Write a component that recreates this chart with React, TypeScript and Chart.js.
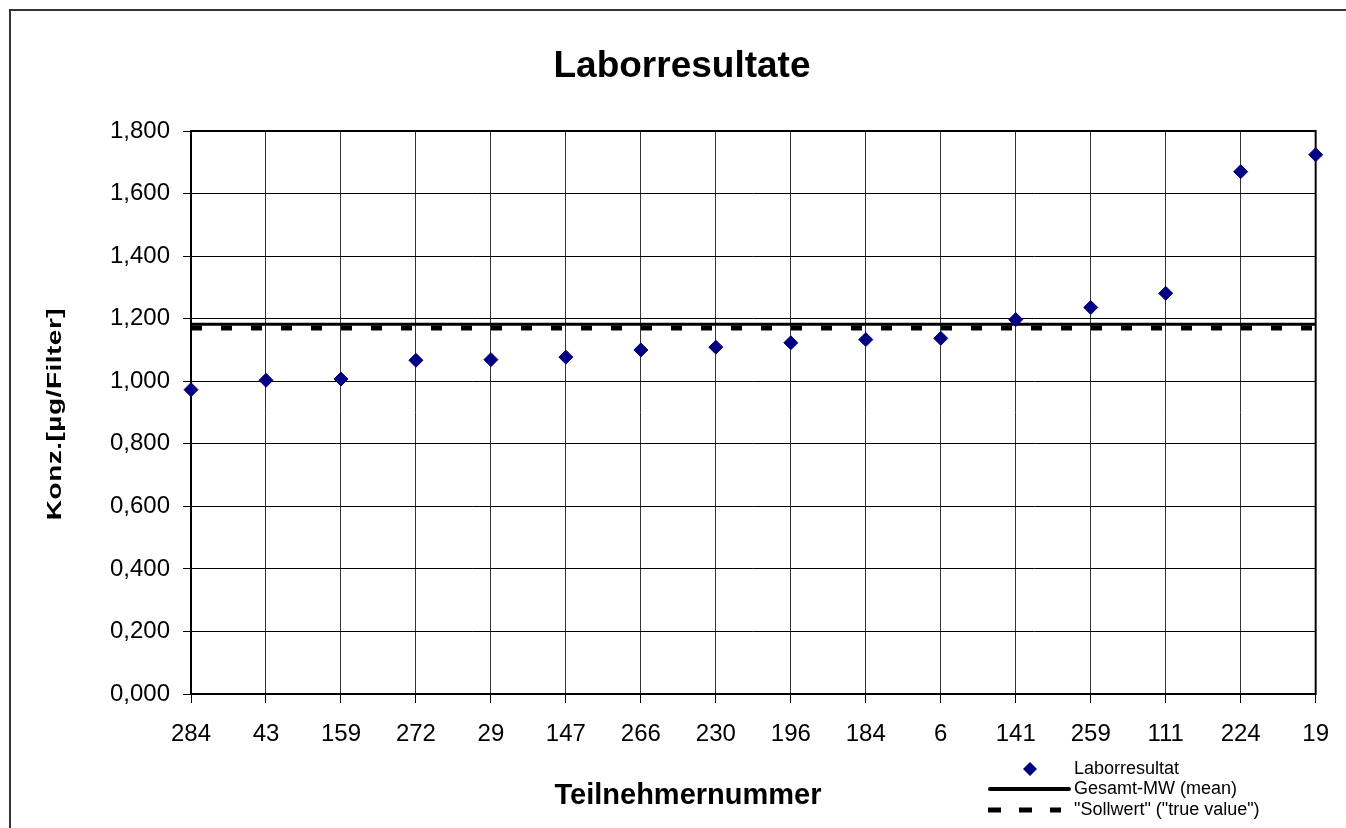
import React, { useEffect, useRef } from "react";
import { Chart, registerables } from "chart.js";

Chart.register(...registerables);

const categories = ["284", "43", "159", "272", "29", "147", "266", "230", "196", "184", "6", "141", "259", "111", "224", "19"];
const laborValues = [0.973, 1.003, 1.007, 1.067, 1.069, 1.077, 1.1, 1.109, 1.123, 1.133, 1.137, 1.197, 1.236, 1.281, 1.67, 1.724];
const meanValue = 1.182;
const sollwertValue = 1.17;
const yTickLabels = ["0,000", "0,200", "0,400", "0,600", "0,800", "1,000", "1,200", "1,400", "1,600", "1,800"];
const titleText = "Laborresultate";
const xTitleText = "Teilnehmernummer";
const yTitleText = "Konz.[µg/Filter]";
const seriesLabels = ["Laborresultat", "Gesamt-MW (mean)", "\"Sollwert\" (\"true value\")"];

const FONT = "'Liberation Sans', Arial, sans-serif";
const NAVY = "#000080";

const decorPlugin = {
  id: "decor",
  beforeDraw(chart: any) {
    const ctx = chart.ctx;
    ctx.save();
    ctx.fillStyle = "#fff";
    ctx.fillRect(0, 0, chart.width, chart.height);
    ctx.strokeStyle = "#333";
    ctx.lineWidth = 2;
    ctx.strokeRect(10, 10, 2000, 2000);
    ctx.restore();
  },
  beforeDatasetsDraw(chart: any) {
    const { ctx, chartArea } = chart;
    ctx.save();
    ctx.strokeStyle = "#000";
    ctx.lineWidth = 2;
    ctx.strokeRect(chartArea.left, chartArea.top, chartArea.right - chartArea.left, chartArea.bottom - chartArea.top);
    ctx.restore();
  },
  afterDraw(chart: any) {
    const ctx = chart.ctx;
    ctx.save();
    ctx.fillStyle = "#000";
    // title
    ctx.font = `bold 37px ${FONT}`;
    ctx.textAlign = "center";
    ctx.textBaseline = "middle";
    ctx.fillText(titleText, 682, 67);
    // x title
    ctx.font = `bold 29px ${FONT}`;
    ctx.fillText(xTitleText, 688, 796);
    // y title
    ctx.save();
    ctx.translate(55, 414);
    ctx.rotate(-Math.PI / 2);
    ctx.scale(1, 0.72);
    ctx.font = `bold 28px ${FONT}`;
    try { (ctx as any).letterSpacing = "0.5px"; } catch (e) {}
    ctx.fillText(yTitleText, 0, 0);
    ctx.restore();

    // legend
    const ds = chart.data.datasets;
    ctx.font = `18px ${FONT}`;
    ctx.textAlign = "left";
    ctx.textBaseline = "middle";
    const tx = 1074;
    const rows = [769, 789, 810];
    const r = 7;
    ctx.fillStyle = ds[0].backgroundColor;
    ctx.beginPath();
    ctx.moveTo(1030, rows[0] - r);
    ctx.lineTo(1030 + r, rows[0]);
    ctx.lineTo(1030, rows[0] + r);
    ctx.lineTo(1030 - r, rows[0]);
    ctx.closePath();
    ctx.fill();
    ctx.strokeStyle = ds[1].borderColor;
    ctx.lineWidth = 4;
    ctx.lineCap = "round";
    ctx.beginPath();
    ctx.moveTo(990, rows[1]);
    ctx.lineTo(1069, rows[1]);
    ctx.stroke();
    ctx.strokeStyle = ds[2].borderColor;
    ctx.lineWidth = 5;
    ctx.lineCap = "butt";
    ctx.setLineDash([13, 18]);
    ctx.beginPath();
    ctx.moveTo(988, rows[2]);
    ctx.lineTo(1061, rows[2]);
    ctx.stroke();
    ctx.setLineDash([]);
    ctx.fillStyle = "#000";
    seriesLabels.forEach((t, i) => ctx.fillText(t, tx, rows[i]));
    ctx.restore();
  },
};

export default function App() {
  const ref = useRef<HTMLCanvasElement>(null);
  useEffect(() => {
    if (!ref.current) return;
    const chart = new Chart(ref.current, {
      type: "line",
      data: {
        labels: categories,
        datasets: [
          {
            label: seriesLabels[0],
            data: laborValues,
            showLine: false,
            pointStyle: "rectRot",
            pointRadius: 7,
            pointBackgroundColor: NAVY,
            pointBorderColor: NAVY,
            pointBorderWidth: 1,
            backgroundColor: NAVY,
            borderColor: NAVY,
            clip: false,
          },
          {
            label: seriesLabels[1],
            data: categories.map(() => meanValue),
            borderColor: "#000",
            borderWidth: 3,
            pointRadius: 0,
            fill: false,
          },
          {
            label: seriesLabels[2],
            data: categories.map(() => sollwertValue),
            borderColor: "#000",
            borderWidth: 5,
            borderDash: [11, 19],
            pointRadius: 0,
            fill: false,
          },
        ],
      },
      options: {
        animation: false,
        responsive: false,
        devicePixelRatio: 1,
        layout: { padding: { top: 131, right: 29, left: 0, bottom: 0 } },
        plugins: {
          legend: { display: false },
          title: { display: false },
          tooltip: { enabled: false },
        },
        scales: {
          x: {
            offset: false,
            grid: { color: "#333", lineWidth: 1, tickLength: 9, tickColor: "#000" },
            border: { display: false },
            ticks: {
              color: "#000",
              font: { family: FONT, size: 24 },
              padding: 17,
              maxRotation: 0,
              autoSkip: false,
            },
            afterFit: (s: any) => {
              s.height = 134;
            },
          },
          y: {
            min: 0,
            max: 1.8,
            grid: { color: "#000", lineWidth: 1, tickLength: 8, tickColor: "#000" },
            border: { display: false },
            ticks: {
              stepSize: 0.2,
              color: "#000",
              font: { family: FONT, size: 24 },
              padding: 13,
              callback: (_v: any, i: number) => yTickLabels[i],
            },
            afterFit: (s: any) => {
              s.width = 191;
            },
          },
        },
      },
      plugins: [decorPlugin],
    });
    return () => chart.destroy();
  }, []);
  return (
    <div style={{ position: "absolute", left: 0, top: 0, width: 1346, height: 828 }}>
      <canvas ref={ref} width={1346} height={828} style={{ width: 1346, height: 828, display: "block" }} />
    </div>
  );
}
